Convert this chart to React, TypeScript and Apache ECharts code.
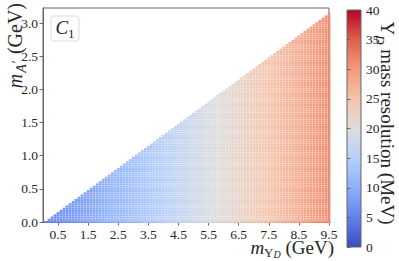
import React, { useEffect, useRef } from "react";
import * as echarts from "echarts";

// m_{Upsilon_D} scan columns (GeV)
const mUpsilonD = [
  0.1, 0.2, 0.3, 0.4, 0.5, 0.6, 0.7, 0.8, 0.9, 1.0,
  1.1, 1.2, 1.3, 1.4, 1.5, 1.6, 1.7, 1.8, 1.9, 2.0,
  2.1, 2.2, 2.3, 2.4, 2.5, 2.6, 2.7, 2.8, 2.9, 3.0,
  3.1, 3.2, 3.3, 3.4, 3.5, 3.6, 3.7, 3.8, 3.9, 4.0,
  4.1, 4.2, 4.3, 4.4, 4.5, 4.6, 4.7, 4.8, 4.9, 5.0,
  5.1, 5.2, 5.3, 5.4, 5.5, 5.6, 5.7, 5.8, 5.9, 6.0,
  6.1, 6.2, 6.3, 6.4, 6.5, 6.6, 6.7, 6.8, 6.9, 7.0,
  7.1, 7.2, 7.3, 7.4, 7.5, 7.6, 7.7, 7.8, 7.9, 8.0,
  8.1, 8.2, 8.3, 8.4, 8.5, 8.6, 8.7, 8.8, 8.9, 9.0,
  9.1, 9.2, 9.3, 9.4, 9.5,
];

// m_{A'} scan rows (GeV)
const mAprime = [
  0, 0.033, 0.067, 0.1, 0.133, 0.167, 0.2, 0.233, 0.267, 0.3,
  0.333, 0.367, 0.4, 0.433, 0.467, 0.5, 0.533, 0.567, 0.6, 0.633,
  0.667, 0.7, 0.733, 0.767, 0.8, 0.833, 0.867, 0.9, 0.933, 0.967,
  1.0, 1.033, 1.067, 1.1, 1.133, 1.167, 1.2, 1.233, 1.267, 1.3,
  1.333, 1.367, 1.4, 1.433, 1.467, 1.5, 1.533, 1.567, 1.6, 1.633,
  1.667, 1.7, 1.733, 1.767, 1.8, 1.833, 1.867, 1.9, 1.933, 1.967,
  2.0, 2.033, 2.067, 2.1, 2.133, 2.167, 2.2, 2.233, 2.267, 2.3,
  2.333, 2.367, 2.4, 2.433, 2.467, 2.5, 2.533, 2.567, 2.6, 2.633,
  2.667, 2.7, 2.733, 2.767, 2.8, 2.833, 2.867, 2.9, 2.933, 2.967,
  3.0, 3.033, 3.067, 3.1, 3.133,
];

// Upsilon_D mass resolution (MeV) per m_{Upsilon_D} column
const resolution = [
  5.2, 5.5, 5.7, 5.9, 6.2, 6.4, 6.6, 6.9, 7.1, 7.4,
  7.6, 7.8, 8.1, 8.3, 8.6, 8.8, 9.1, 9.3, 9.6, 9.8,
  10.1, 10.3, 10.6, 10.8, 11.1, 11.3, 11.6, 11.8, 12.1, 12.4,
  12.6, 12.9, 13.1, 13.4, 13.7, 13.9, 14.2, 14.5, 14.7, 15.0,
  15.3, 15.5, 15.8, 16.1, 16.4, 16.6, 16.9, 17.2, 17.5, 17.8,
  18.0, 18.3, 18.6, 18.9, 19.2, 19.4, 19.7, 20.0, 20.3, 20.6,
  20.9, 21.2, 21.5, 21.8, 22.1, 22.4, 22.7, 23.0, 23.3, 23.6,
  23.9, 24.2, 24.5, 24.8, 25.1, 25.4, 25.7, 26.0, 26.3, 26.6,
  26.9, 27.2, 27.5, 27.8, 28.2, 28.5, 28.8, 29.1, 29.4, 29.8,
  30.1, 30.4, 30.7, 31.0, 31.4,
];

const xTicks = [0.5, 1.5, 2.5, 3.5, 4.5, 5.5, 6.5, 7.5, 8.5, 9.5];
const yTicks = [0, 0.5, 1.0, 1.5, 2.0, 2.5, 3.0];

const coolwarm = [
  "#3b4cc0", "#6282ea", "#8db0fe", "#b8d0f9", "#dddddd",
  "#f5c4ad", "#f49a7b", "#de604d", "#b40426",
];

const SERIF = "'Liberation Serif', 'DejaVu Serif', serif";
const TXT = "#262626";
const SPINE = "#666666";

let mctx: CanvasRenderingContext2D | null = null;
function measure(t: string, font: string): number {
  if (!mctx) mctx = document.createElement("canvas").getContext("2d");
  if (!mctx) return t.length * 8;
  mctx.font = font;
  return mctx.measureText(t).width;
}

type Piece = { t: string; s: number; it?: boolean; dy?: number; gap?: number };
const fontOf = (p: Piece) => `${p.it ? "italic " : ""}${p.s}px ${SERIF}`;

function mathLabel(
  pieces: Piece[],
  x: number,
  y: number,
  rotation: number,
  anchor: "left" | "right" | "center"
) {
  const widths = pieces.map((p) => measure(p.t, fontOf(p)) + (p.gap || 0));
  const total = widths.reduce((a, b) => a + b, 0);
  let cur = anchor === "left" ? 0 : anchor === "right" ? -total : -total / 2;
  const children = pieces.map((p, i) => {
    const el = {
      type: "text",
      x: cur,
      y: p.dy || 0,
      silent: true,
      style: {
        text: p.t,
        font: fontOf(p),
        fill: TXT,
        textAlign: "left",
        textVerticalAlign: "middle",
        align: "left",
        verticalAlign: "middle",
      },
    };
    cur += widths[i];
    return el;
  });
  return { type: "group", x, y, rotation, silent: true, children };
}

export default function App() {
  const ref = useRef<HTMLDivElement>(null);

  useEffect(() => {
    if (!ref.current) return;
    const chart = echarts.init(ref.current, undefined, { renderer: "svg" });

    const data: number[][] = [];
    mUpsilonD.forEach((mx, i) => {
      for (let k = 0; k <= i && k < mAprime.length; k++) {
        data.push([mx, mAprime[k], resolution[i]]);
      }
    });

    const L = 19;
    const S = 13;
    const SS = 10;

    chart.setOption({
      animation: false,
      backgroundColor: "#ffffff",
      grid: [
        {
          left: 43,
          right: 70,
          top: 8,
          bottom: 39,
          show: true,
          borderColor: SPINE,
          borderWidth: 1,
          backgroundColor: "transparent",
          containLabel: false,
        },
        {
          left: 347,
          width: 14,
          top: 10,
          height: 237,
          show: true,
          borderColor: SPINE,
          borderWidth: 1,
          backgroundColor: new echarts.graphic.LinearGradient(
            0, 1, 0, 0,
            coolwarm.map((c, i) => ({ offset: i / (coolwarm.length - 1), color: c }))
          ),
        },
      ],
      xAxis: [
        {
          type: "value",
          gridIndex: 0,
          min: 0,
          max: 9.5,
          splitLine: { show: false },
          axisLine: { show: true, onZero: false, lineStyle: { color: SPINE } },
          axisTick: {
            show: true,
            inside: false,
            length: 3.5,
            customValues: xTicks,
            lineStyle: { color: SPINE },
          },
          axisLabel: {
            customValues: xTicks,
            formatter: (v: number) => v.toFixed(1),
            fontFamily: SERIF,
            fontSize: 13.5,
            color: TXT,
            margin: 5,
          },
        },
        {
          type: "value",
          gridIndex: 1,
          min: 0,
          max: 1,
          show: false,
        },
      ],
      yAxis: [
        {
          type: "value",
          gridIndex: 0,
          min: 0,
          max: 3.23,
          splitLine: { show: false },
          axisLine: { show: true, onZero: false, lineStyle: { color: SPINE } },
          axisTick: {
            show: true,
            inside: false,
            length: 3.5,
            customValues: yTicks,
            lineStyle: { color: SPINE },
          },
          axisLabel: {
            customValues: yTicks,
            formatter: (v: number) => v.toFixed(1),
            fontFamily: SERIF,
            fontSize: 13.5,
            color: TXT,
            margin: 5,
          },
        },
        {
          type: "value",
          gridIndex: 1,
          position: "right",
          min: 0,
          max: 40,
          interval: 5,
          splitLine: { show: false },
          axisLine: { show: false },
          axisTick: {
            show: true,
            inside: false,
            length: 3.5,
            lineStyle: { color: SPINE },
          },
          axisLabel: {
            fontFamily: SERIF,
            fontSize: 13.5,
            color: TXT,
            margin: 5,
          },
        },
      ],
      visualMap: {
        type: "continuous",
        show: false,
        min: 0,
        max: 40,
        dimension: 2,
        seriesIndex: 0,
        inRange: { color: coolwarm },
      },
      series: [
        {
          type: "scatter",
          xAxisIndex: 0,
          yAxisIndex: 0,
          symbol: "rect",
          symbolSize: [2.85, 2.1],
          silent: true,
          itemStyle: { opacity: 1 },
          data,
        },
      ],
      graphic: [
        {
          type: "rect",
          shape: { x: 51, y: 16, width: 28, height: 25, r: 3 },
          style: { fill: "#ffffff", stroke: "#dcdcdc", lineWidth: 1 },
          silent: true,
        },
        mathLabel(
          [
            { t: "C", s: L, it: true },
            { t: "1", s: S, dy: 6.5 },
          ],
          65,
          27,
          0,
          "center"
        ),
        mathLabel(
          [
            { t: "m", s: L, it: true },
            { t: "Υ", s: S, dy: 5 },
            { t: "D", s: SS, it: true, dy: 7.5 },
            { t: " (GeV)", s: L },
          ],
          334,
          247,
          0,
          "right"
        ),
        mathLabel(
          [
            { t: "m", s: 20, it: true, gap: 1 },
            { t: "A", s: 14, it: true, dy: 6.5 },
            { t: "′", s: 14, it: true, dy: 2, gap: 2 },
            { t: " (GeV)", s: 20 },
          ],
          15,
          3,
          Math.PI / 2,
          "right"
        ),
        mathLabel(
          [
            { t: "Υ", s: 19 },
            { t: "D", s: 13, it: true, dy: 6.5 },
            { t: " mass resolution (MeV)", s: 19 },
          ],
          387,
          123,
          -Math.PI / 2,
          "center"
        ),
      ],
    });

    return () => chart.dispose();
  }, []);

  return (
    <div
      ref={ref}
      style={{ position: "fixed", left: 0, top: 0, width: 399, height: 261 }}
    />
  );
}
